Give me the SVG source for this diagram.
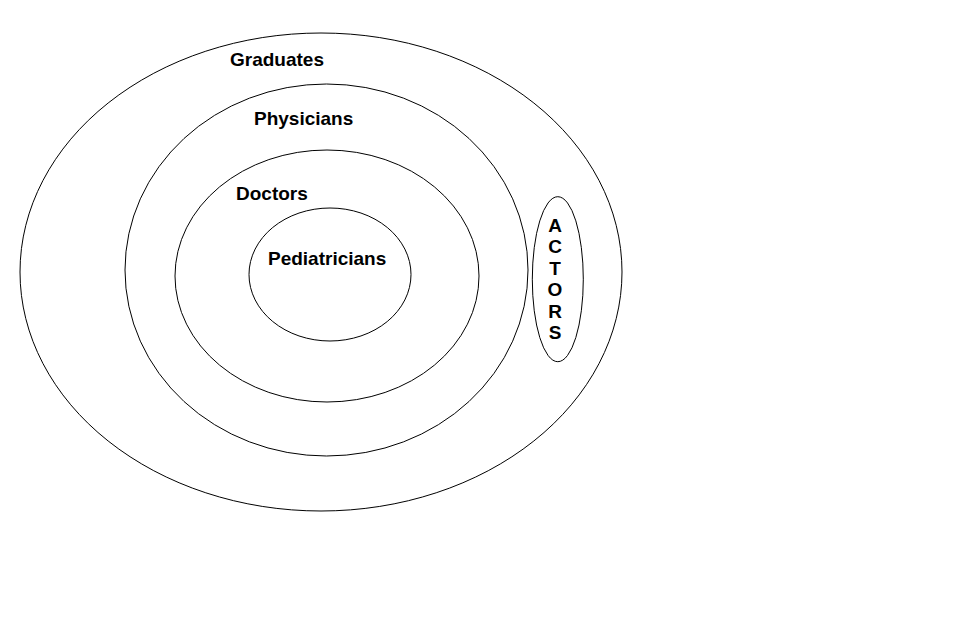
<svg xmlns="http://www.w3.org/2000/svg" width="962" height="630" viewBox="0 0 962 630">
<style>
.set{fill:none;stroke:#000;stroke-width:1}
.lbl{font-family:"Liberation Sans",Arial,sans-serif;font-weight:bold;font-size:19px;fill:#000}
.ltr{font-family:"Liberation Sans",Arial,sans-serif;font-weight:bold;font-size:19px;fill:#000;text-anchor:middle}
</style>
<rect width="962" height="630" fill="#fff"/>
<g id="graduates">
<ellipse class="set" cx="321" cy="272" rx="301" ry="239"/>
<text class="lbl" x="230" y="66">Graduates</text>
</g>
<g id="physicians">
<ellipse class="set" cx="326.5" cy="270" rx="201.5" ry="186"/>
<text class="lbl" x="254" y="125">Physicians</text>
</g>
<g id="doctors">
<ellipse class="set" cx="327" cy="276" rx="152" ry="126"/>
<text class="lbl" x="236" y="200">Doctors</text>
</g>
<g id="pediatricians">
<ellipse class="set" cx="330" cy="274.5" rx="81" ry="66.5"/>
<text class="lbl" x="268" y="265">Pediatricians</text>
</g>
<g id="actors">
<ellipse class="set" cx="557.8" cy="279.2" rx="25.5" ry="82.5"/>
<text class="ltr" x="555" y="231.5">A</text>
<text class="ltr" x="555" y="253">C</text>
<text class="ltr" x="555" y="274.5">T</text>
<text class="ltr" x="555" y="296">O</text>
<text class="ltr" x="555" y="317.5">R</text>
<text class="ltr" x="555" y="339">S</text>
</g>
<g id="connectors"></g>
</svg>
